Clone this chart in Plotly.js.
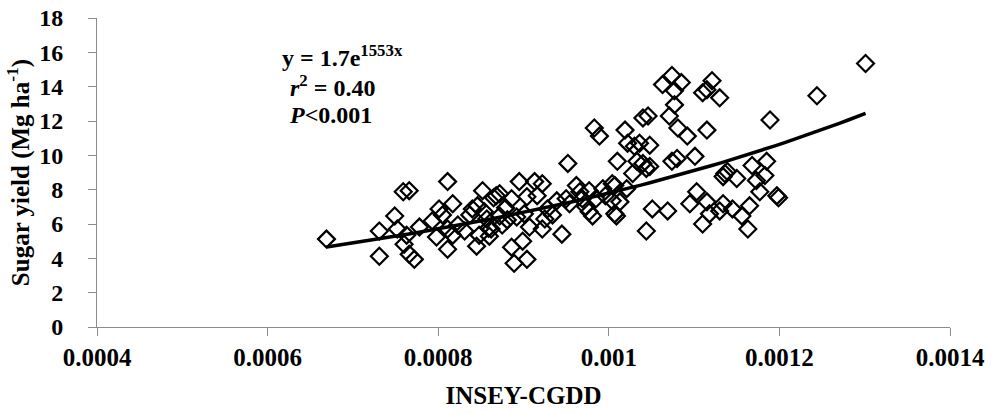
<!DOCTYPE html>
<html>
<head>
<meta charset="utf-8">
<script src="https://cdn.plot.ly/plotly-3.0.1.min.js"></script>
<style>html,body{margin:0;padding:0;background:#fff;}#chart{width:1000px;height:414px;}</style>
</head>
<body>
<div id="chart"></div>
<script>
// INSEY-CGDD values (x) and sugar yield, Mg ha-1 (y)
const inseyCgdd = [
0.000669,0.000731,0.000731,0.000749,0.000759,0.000766,0.000752,0.000760,0.000766,0.000772,
0.000763,0.000778,0.000793,0.000798,0.000801,0.000805,0.000811,0.000811,0.000817,0.000811,
0.000823,0.000831,0.000837,0.000840,0.000845,0.000846,0.000852,0.000854,0.000848,0.000857,
0.000859,0.000862,0.000865,0.000868,0.000872,0.000872,0.000860,0.000875,0.000879,0.000881,
0.000886,0.000886,0.000889,0.000892,0.000895,0.000899,0.000904,0.000904,0.000907,0.000913,
0.000916,0.000922,0.000922,0.000928,0.000934,0.000939,0.000945,0.000950,0.000952,0.000954,
0.000962,0.000966,0.000973,0.000977,0.000977,0.000981,0.000983,0.000989,0.000993,0.000996,
0.001004,0.001004,0.001009,0.001010,0.001013,0.001019,0.001021,0.001022,0.001028,0.001030,
0.001033,0.001036,0.001040,0.001044,0.001044,0.001046,0.001048,0.001048,0.001051,0.001063,
0.001069,0.001071,0.001074,0.001074,0.001077,0.001077,0.001080,0.001081,0.001085,0.001092,
0.001101,0.001103,0.001110,0.001115,0.001115,0.001110,0.001115,0.001118,0.001121,0.001130,
0.001130,0.001134,0.001134,0.001136,0.001139,0.001145,0.001156,0.001163,0.001165,0.001168,
0.001173,0.001177,0.001183,0.001185,0.001189,0.001197,0.001244,0.001301,0.001007,0.001007,
0.001095,0.001040,0.000817,0.000969,0.000925,0.000901,0.000985,0.001199,0.001150
];
const sugarYield = [
5.12,4.12,5.59,6.47,7.88,7.94,5.71,4.82,4.24,3.94,
5.35,5.82,6.18,5.24,6.88,6.53,8.47,4.53,7.18,5.71,
5.94,5.59,6.53,6.88,4.71,7.06,7.94,6.71,5.35,6.29,
5.76,5.71,7.53,7.65,6.47,7.76,5.29,5.94,6.94,6.24,
7.47,4.65,3.71,6.41,8.47,5.00,7.59,3.94,5.82,8.47,
7.65,8.35,5.71,6.88,6.53,7.35,5.41,7.47,9.53,7.18,
8.24,7.88,7.00,7.94,6.71,6.47,11.59,11.12,8.06,7.65,
8.35,7.35,6.47,9.65,7.29,11.47,8.06,10.71,8.94,10.53,
9.65,10.71,12.18,9.24,5.59,12.29,10.59,9.35,6.88,14.12,
6.76,12.29,14.65,9.65,13.76,12.94,9.82,11.59,14.24,11.12,
9.94,7.88,13.65,13.82,11.47,6.00,7.29,6.59,14.35,13.35,
6.76,7.18,8.76,8.94,9.06,6.88,6.47,5.71,7.06,9.41,
8.53,7.88,8.82,9.65,12.06,7.65,13.47,15.35,8.24,6.59,
7.18,9.53,5.35,7.47,6.29,6.59,7.47,7.53,8.65
];
// Exponential trendline y = A * exp(B x), as printed on the chart
const trendA = 1.65;
const trendB = 1553;
const xTickVals = [0.0004,0.0006,0.0008,0.001,0.0012,0.0014];
const xTickText = ["0.0004","0.0006","0.0008","0.001","0.0012","0.0014"];
const yTickVals = [0,2,4,6,8,10,12,14,16,18];

const xMin = Math.min(...inseyCgdd), xMax = Math.max(...inseyCgdd);
const trendX = [], trendY = [];
for (let i = 0; i <= 60; i++) {
  const x = xMin + (xMax - xMin) * i / 60;
  trendX.push(x);
  trendY.push(trendA * Math.exp(trendB * x));
}

const FONT = "Liberation Serif, Times New Roman, serif";

const data = [
  {
    x: inseyCgdd, y: sugarYield, type: "scatter", mode: "markers",
    marker: {symbol: "diamond-open", size: 13, color: "#000", line: {width: 2.2, color: "#000"}},
    hoverinfo: "x+y", showlegend: false
  },
  {
    x: trendX, y: trendY, type: "scatter", mode: "lines",
    line: {color: "#000", width: 3.5}, showlegend: false, hoverinfo: "skip"
  }
];

const layout = {
  width: 1000, height: 414,
  margin: {l: 97, r: 50, t: 18, b: 87},
  paper_bgcolor: "#fff", plot_bgcolor: "#fff",
  font: {family: FONT, color: "#000"},
  xaxis: {
    range: [0.0004, 0.0014], tickvals: xTickVals, ticktext: xTickText,
    showgrid: false, zeroline: false, showline: true, linecolor: "#8c8c8c", linewidth: 1,
    ticks: "outside", ticklen: 8, tickcolor: "#8c8c8c",
    tickfont: {family: FONT, size: 25, color: "#000", weight: "bold"},
    title: {text: "<b>INSEY-CGDD</b>", font: {family: FONT, size: 25, color: "#000"}, standoff: 16}
  },
  yaxis: {
    range: [0, 18], tickvals: yTickVals,
    showgrid: false, zeroline: false, showline: true, linecolor: "#8c8c8c", linewidth: 1,
    ticks: "outside", ticklen: 8, tickcolor: "#8c8c8c",
    tickfont: {family: FONT, size: 24, color: "#000", weight: "bold"},
    ticklabelstandoff: 20,
    title: {text: "<b>Sugar yield (Mg ha<sup>-1</sup>)</b>", font: {family: FONT, size: 25, color: "#000"}, standoff: 2}
  },
  annotations: [
    {xref: "paper", yref: "paper", x: (342-97)/853, y: (327-56)/309, showarrow: false,
     text: "<b>y = 1.7e<sup>1553x</sup></b>", font: {family: FONT, size: 24, color: "#000"}, xanchor: "center", yanchor: "middle"},
    {xref: "paper", yref: "paper", x: (332-97)/853, y: (327-86)/309, showarrow: false,
     text: "<b><i>r</i><sup>2</sup> = 0.40</b>", font: {family: FONT, size: 24, color: "#000"}, xanchor: "center", yanchor: "middle"},
    {xref: "paper", yref: "paper", x: (330-97)/853, y: (327-115)/309, showarrow: false,
     text: "<b><i>P</i><0.001</b>", font: {family: FONT, size: 24, color: "#000"}, xanchor: "center", yanchor: "middle"}
  ]
};

Plotly.newPlot("chart", data, layout, {displayModeBar: false, staticPlot: true});
</script>
</body>
</html>
